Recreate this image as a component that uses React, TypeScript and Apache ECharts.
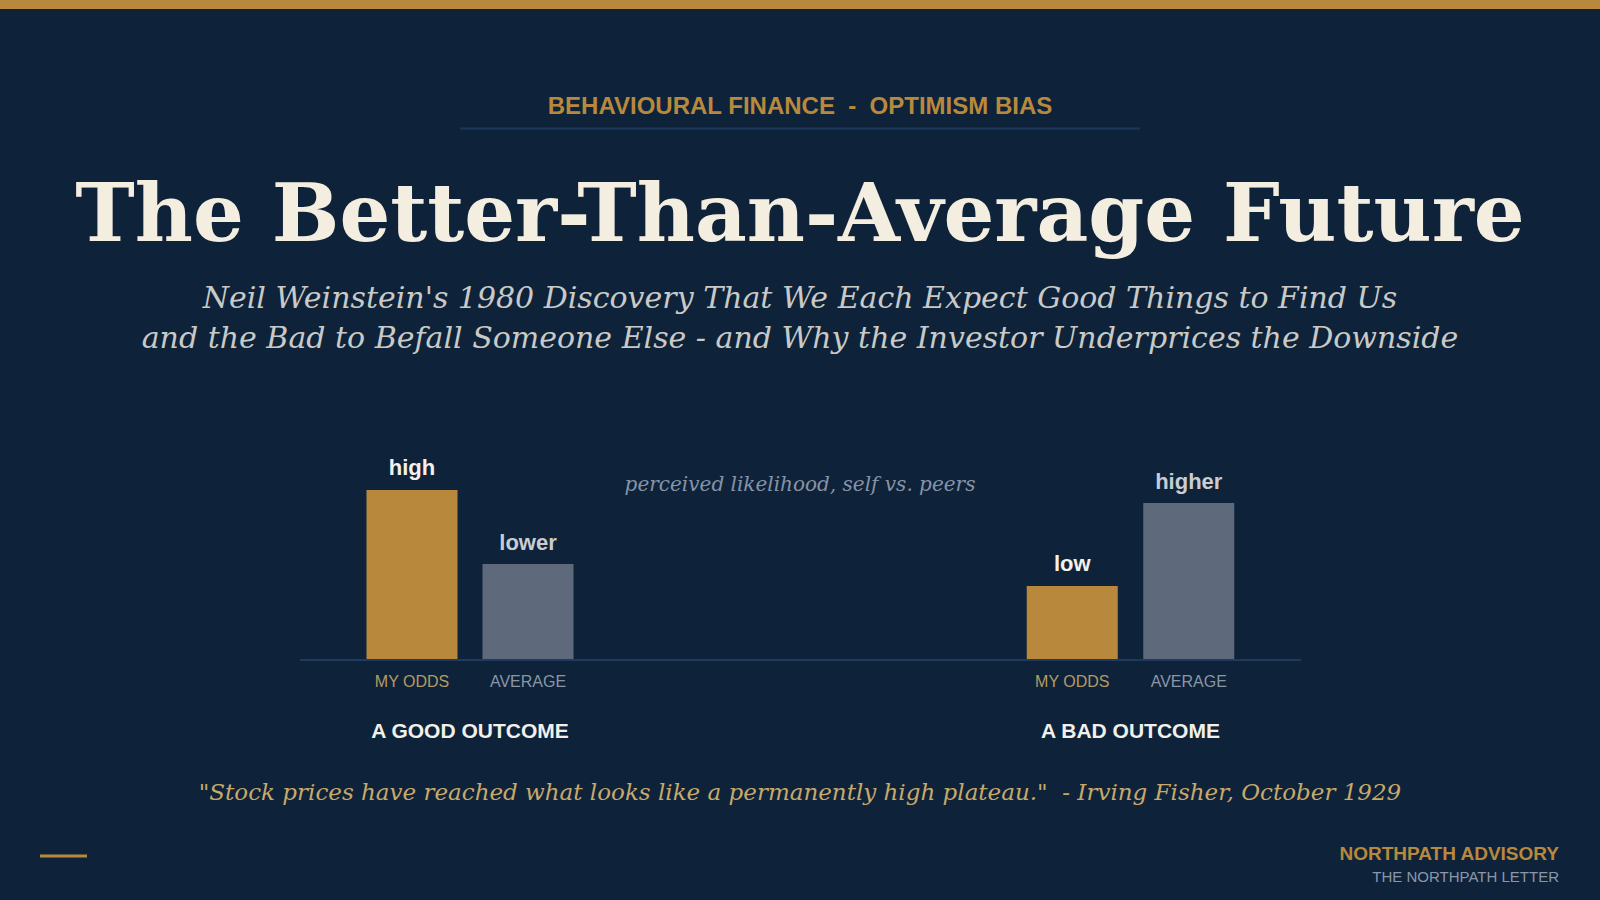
import React, { useEffect, useRef } from "react";
import * as echarts from "echarts";

const categories = ["MY ODDS", "AVERAGE"];
const goodValues = [78, 44];
const badValues = [34, 72];
const goodLabels = ["high", "lower"];
const badLabels = ["low", "higher"];
const groupNames = ["A GOOD OUTCOME", "A BAD OUTCOME"];

const BG = "#0e233a";
const GOLD = "#b8893c";
const GREY = "#5e697c";
const SANS = "'Liberation Sans', Arial, sans-serif";
const SERIF = "'DejaVu Serif', serif";

const barColors = [GOLD, GREY];
const labelColors = ["#f4f1ea", "#c9ccd2"];
const catColors = ["#b59a62", "#8a96a8"];

function makeSeries(values: number[], labels: string[], idx: number) {
  return {
    type: "bar",
    xAxisIndex: idx,
    yAxisIndex: idx,
    barWidth: 91,
    data: values.map((v, i) => ({
      value: v,
      itemStyle: { color: barColors[i] },
      label: {
        show: true,
        position: "top",
        distance: 11,
        formatter: labels[i],
        color: labelColors[i],
        fontFamily: SANS,
        fontWeight: "bold",
        fontSize: 22,
      },
    })),
  };
}

function makeXAxis(idx: number) {
  return {
    type: "category",
    gridIndex: idx,
    data: categories.map((c, i) => ({ value: c, textStyle: { color: catColors[i] } })),
    axisLine: { show: false },
    axisTick: { show: false },
    axisLabel: { margin: 13, fontFamily: SANS, fontSize: 16 },
    name: groupNames[idx],
    nameLocation: "middle",
    nameGap: 60,
    nameTextStyle: { color: "#f2f0ea", fontFamily: SANS, fontWeight: "bold", fontSize: 21 },
  };
}

function makeYAxis(idx: number) {
  return { type: "value", gridIndex: idx, min: 0, max: 100, show: false };
}

export default function App() {
  const ref = useRef<HTMLDivElement>(null);
  useEffect(() => {
    document.body.style.margin = "0";
    const chart = echarts.init(ref.current!, null, { renderer: "svg" });
    chart.setOption({
      animation: false,
      backgroundColor: BG,
      grid: [
        { left: 354, width: 232, top: 442, height: 218 },
        { left: 1014, width: 233, top: 442, height: 218 },
      ],
      xAxis: [makeXAxis(0), makeXAxis(1)],
      yAxis: [makeYAxis(0), makeYAxis(1)],
      series: [makeSeries(goodValues, goodLabels, 0), makeSeries(badValues, badLabels, 1)],
      graphic: [
        { type: "rect", shape: { x: 0, y: 0, width: 1600, height: 9 }, style: { fill: GOLD } },
        { type: "rect", shape: { x: 0, y: 9, width: 1600, height: 2 }, style: { fill: "#14202c" } },
        {
          type: "text", x: 800, y: 105,
          style: { text: "BEHAVIOURAL FINANCE  -  OPTIMISM BIAS", fill: GOLD, font: `bold 24px ${SANS}`, align: "center", verticalAlign: "middle" },
        },
        { type: "line", shape: { x1: 460, y1: 128.5, x2: 1140, y2: 128.5 }, style: { stroke: "#1d3856", lineWidth: 2 } },
        {
          type: "text", x: 800, y: 213,
          style: { text: "The Better-Than-Average Future", fill: "#f4eee1", font: `bold 80px ${SERIF}`, align: "center", verticalAlign: "middle" },
        },
        {
          type: "text", x: 800, y: 297,
          style: { text: "Neil Weinstein's 1980 Discovery That We Each Expect Good Things to Find Us", fill: "#c9cac7", font: `italic 30px ${SERIF}`, align: "center", verticalAlign: "middle" },
        },
        {
          type: "text", x: 800, y: 337,
          style: { text: "and the Bad to Befall Someone Else - and Why the Investor Underprices the Downside", fill: "#c9cac7", font: `italic 30px ${SERIF}`, align: "center", verticalAlign: "middle" },
        },
        {
          type: "text", x: 800, y: 484,
          style: { text: "perceived likelihood, self vs. peers", fill: "#8793a6", font: `italic 20px ${SERIF}`, align: "center", verticalAlign: "middle" },
        },
        { type: "line", z: 10, shape: { x1: 300, y1: 660, x2: 1301, y2: 660 }, style: { stroke: "#1e3a5c", lineWidth: 2 } },
        {
          type: "text", x: 800, y: 792,
          style: { text: "\"Stock prices have reached what looks like a permanently high plateau.\"  - Irving Fisher, October 1929", fill: "#c8a96a", font: `italic 23px ${SERIF}`, align: "center", verticalAlign: "middle" },
        },
        { type: "line", shape: { x1: 40, y1: 856, x2: 87, y2: 856 }, style: { stroke: GOLD, lineWidth: 3 } },
        {
          type: "text", x: 1559, y: 853,
          style: { text: "NORTHPATH ADVISORY", fill: GOLD, font: `bold 19px ${SANS}`, align: "right", verticalAlign: "middle" },
        },
        {
          type: "text", x: 1559, y: 876.5,
          style: { text: "THE NORTHPATH LETTER", fill: "#8a97ab", font: `15px ${SANS}`, align: "right", verticalAlign: "middle" },
        },
      ],
    });
    return () => chart.dispose();
  }, []);
  return <div ref={ref} style={{ width: 1600, height: 900 }} />;
}
